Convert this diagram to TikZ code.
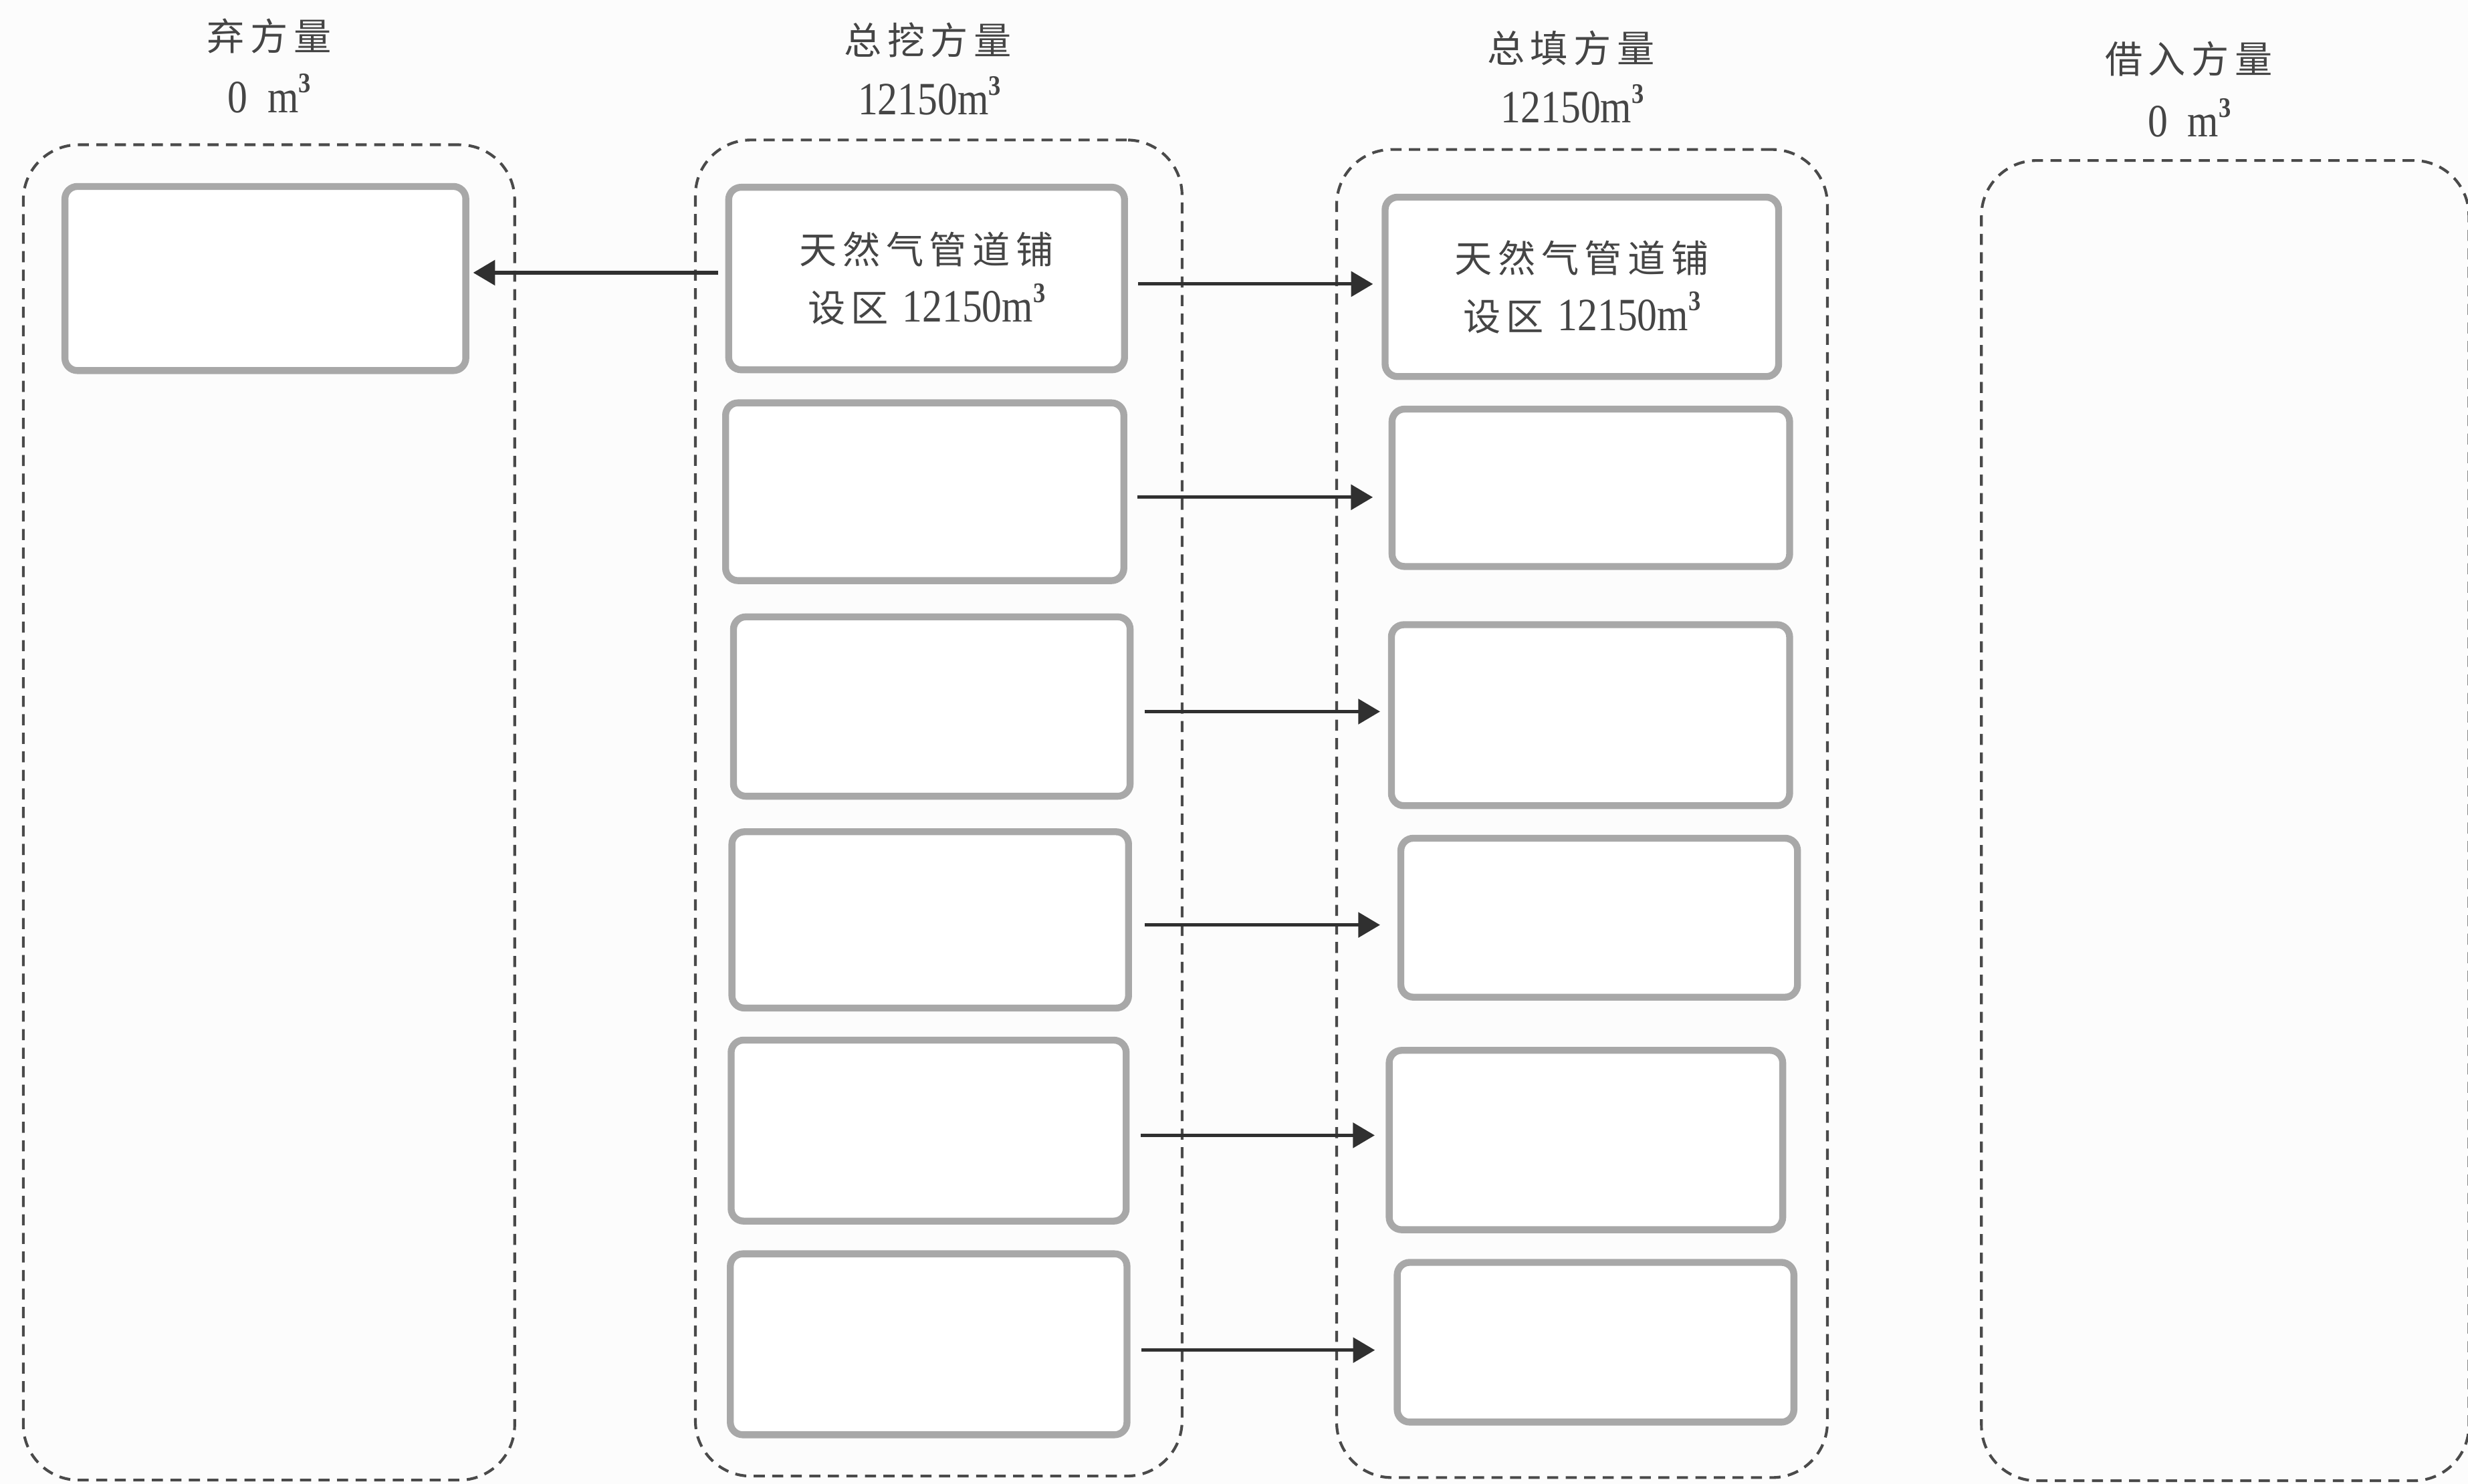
\documentclass[tikz,border=0pt]{standalone}
\usepackage{fontspec}
\usepackage{graphicx}
\newfontfamily\cjk[LetterSpace=15]{Noto Sans CJK SC}
\newfontfamily\numf{Liberation Serif}
\usetikzlibrary{arrows.meta}
\definecolor{boxgray}{HTML}{A8A8A8}
\definecolor{dashc}{HTML}{4A4A4A}
\definecolor{arrc}{HTML}{303030}
\definecolor{txtc}{HTML}{454545}
\definecolor{bgc}{HTML}{FCFCFC}
\newcommand\cubic{\raisebox{0.42em}{\fontsize{9.5pt}{10pt}\selectfont\bfseries 3}}
\newcommand\numstr[1]{\scalebox{0.93}[1.08]{\fontsize{15.5pt}{16pt}\selectfont\numf #1}}
\newcommand\cjktitle[1]{{\fontsize{13.6pt}{16pt}\selectfont\cjk #1}}
\begin{document}
\begin{tikzpicture}[x=0.02cm,y=-0.02cm,
  sz/.style 2 args={minimum width=#1*0.02cm, minimum height=#2*0.02cm},
  ibox/.style={draw=boxgray, line width=2.5pt, rounded corners=4.5pt, fill=white, inner sep=0pt, text=txtc},
  cont/.style={draw=dashc, line width=1pt, dash pattern=on 4pt off 2.7pt, rounded corners=20pt, inner sep=0pt},
  ttl/.style={text=txtc, inner sep=0pt},
  arr/.style={draw=arrc, line width=1.25pt, -{Triangle[length=7.9pt,width=9pt]}},
  btxt/.style={align=center, font=\fontsize{13.6pt}{21pt}\selectfont}
]
\fill[bgc] (0,0) rectangle (1568,943);
\useasboundingbox (0,0) rectangle (1568,943);

% containers
\node[cont, sz={312.2}{848.6}] (cl) at (170.9,516.3) {};
\node[cont, sz={309.2}{849.1}] (cm) at (596.4,513.5) {};
\node[cont, sz={311.8}{844}] (cr) at (1005.1,517) {};
\node[cont, sz={309.7}{839}] (cf) at (1413.7,521.5) {};

% titles
\node[ttl] (t1a) at (171,23) {\cjktitle{弃方量}};
\node[ttl] (t1b) at (171,59.4) {\numstr{0\hspace{0.5em}m\cubic}};
\node[ttl] (t2a) at (589.5,25.6) {\cjktitle{总挖方量}};
\node[ttl] (t2b) at (590.5,60.8) {\numstr{12150m\cubic}};
\node[ttl] (t3a) at (998,30.8) {\cjktitle{总填方量}};
\node[ttl] (t3b) at (999,66) {\numstr{12150m\cubic}};
\node[ttl] (t4a) at (1390.5,37.5) {\cjktitle{借入方量}};
\node[ttl] (t4b) at (1391,75) {\numstr{0\hspace{0.5em}m\cubic}};

% left box
\node[ibox, sz={254.7}{117}] (l1) at (168.6,177) {};

% middle boxes
\node[ibox, btxt, sz={251.5}{116}] (m1) at (588.7,177) {{\cjk 天然气管道铺}\\{\cjk 设区}\hspace{5pt}\numstr{12150m\cubic}};
\node[ibox, sz={253}{113}] (m2) at (587.5,312.5) {};
\node[ibox, sz={252}{114}] (m3) at (592,449) {};
\node[ibox, sz={252}{112}] (m4) at (591,584.6) {};
\node[ibox, sz={251}{115}] (m5) at (590,718.5) {};
\node[ibox, sz={252}{115}] (m6) at (590,854.3) {};

% right boxes
\node[ibox, btxt, sz={250}{114}] (r1) at (1005,182.3) {{\cjk 天然气管道铺}\\{\cjk 设区}\hspace{5pt}\numstr{12150m\cubic}};
\node[ibox, sz={252.6}{100}] (r2) at (1010.7,310) {};
\node[ibox, sz={253}{115}] (r3) at (1010.5,454.5) {};
\node[ibox, sz={252}{101}] (r4) at (1016,583.2) {};
\node[ibox, sz={250}{114}] (r5) at (1007.6,724.5) {};
\node[ibox, sz={252}{101.5}] (r6) at (1013.7,853) {};

% arrows
\draw[arr, shorten <=0.09cm, shorten >=0.05cm] (m1.west |- 0,173.3) -- (l1.east |- 0,173.3);
\draw[arr, shorten <=0.13cm, shorten >=0.11cm] (m1.east |- 0,180.5) -- (r1.west |- 0,180.5);
\draw[arr, shorten <=0.13cm, shorten >=0.2cm] (m2.east |- 0,316) -- (r2.west |- 0,316);
\draw[arr, shorten <=0.14cm, shorten >=0.1cm] (m3.east |- 0,452.2) -- (r3.west |- 0,452.2);
\draw[arr, shorten <=0.16cm, shorten >=0.22cm] (m4.east |- 0,587.8) -- (r4.west |- 0,587.8);
\draw[arr, shorten <=0.14cm, shorten >=0.14cm] (m5.east |- 0,721.5) -- (r5.west |- 0,721.5);
\draw[arr, shorten <=0.14cm, shorten >=0.24cm] (m6.east |- 0,858) -- (r6.west |- 0,858);
\end{tikzpicture}
\end{document}
